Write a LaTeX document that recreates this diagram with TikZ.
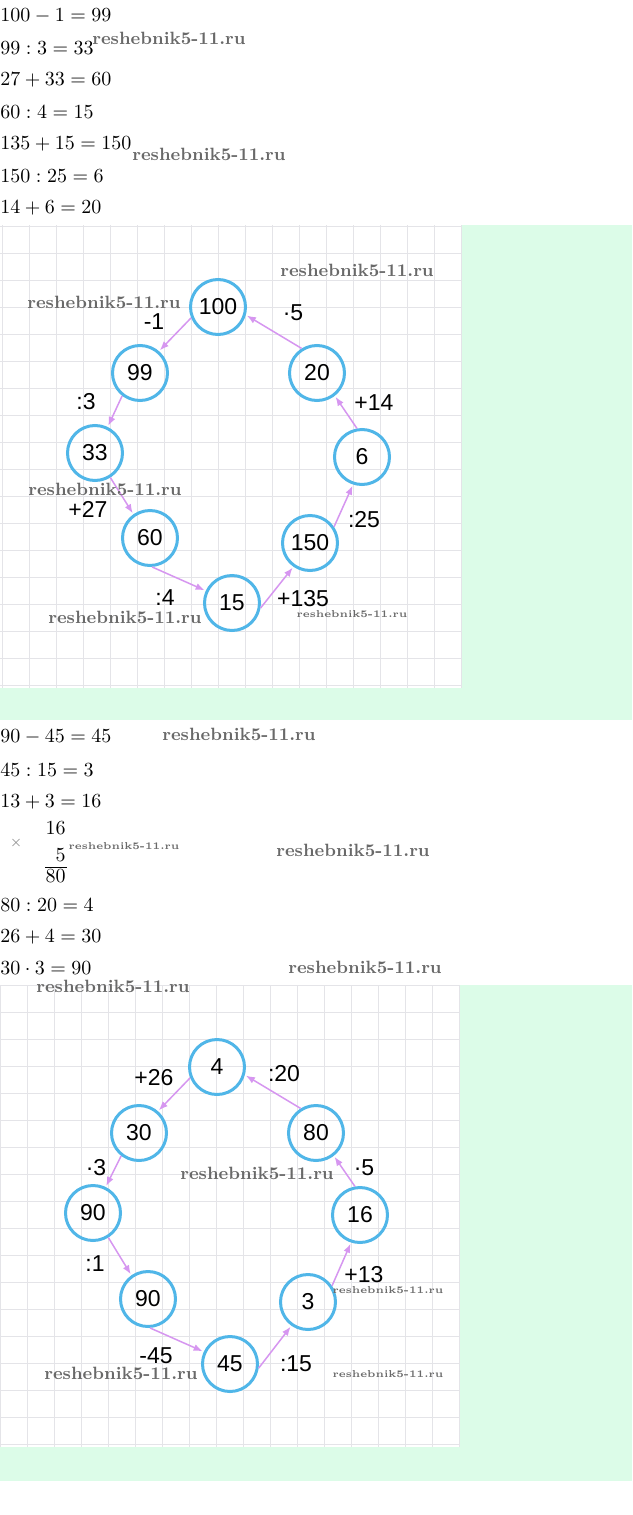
\documentclass[tikz,border=0pt]{standalone}
\usepackage{fontspec}
\usepackage{amsmath}
\usetikzlibrary{arrows.meta}
\newfontfamily\numfont{Liberation Sans}
\definecolor{mint}{RGB}{220,252,232}
\definecolor{gridgray}{RGB}{228,228,232}
\definecolor{ringblue}{RGB}{80,182,232}
\definecolor{arrowpink}{RGB}{214,150,240}
\definecolor{markgray}{RGB}{105,105,105}

\begin{document}
\begin{tikzpicture}[x=0.5pt, y=-0.5pt,
  ring/.style={circle, draw=ringblue, line width=1.5pt, minimum size=27.5pt, inner sep=0pt,
    font=\numfont\fontsize{11.5}{13}\selectfont},
  oplabel/.style={inner sep=0pt, font=\numfont\fontsize{11.5}{13}\selectfont},
  link/.style={draw=arrowpink, line width=0.75pt, -{Latex[length=4.5pt,width=3.5pt]}, shorten >=0.6pt},
  eqline/.style={anchor=west, inner sep=0pt},
  digit/.style={anchor=east, inner sep=0pt},
  site/.style={inner sep=0pt, text=markgray, font=\fontsize{8.9}{11}\selectfont\bfseries},
  smallsite/.style={site, font=\fontsize{5}{6}\selectfont\bfseries},
  gridline/.style={draw=gridgray, line width=0.5pt}]
\useasboundingbox (0,0) rectangle (632,1515);

% first chain: equations
\node[eqline] (e11) at (0,16) {$100-1=99$};
\node[eqline] (e12) at (0,48) {$99:3=33$};
\node[eqline] (e13) at (0,80) {$27+33=60$};
\node[eqline] (e14) at (0,112) {$60:4=15$};
\node[eqline] (e15) at (0,144) {$135+15=150$};
\node[eqline] (e16) at (0,176) {$150:25=6$};
\node[eqline] (e17) at (0,208) {$14+6=20$};

% first chain: sheet
\fill[mint] (0,225) rectangle (632,720);
\fill[white] (0,225) rectangle (462,688);
\foreach \k in {0,...,17} {
  \draw[gridline] ({2+27*\k},225) -- ({2+27*\k},688);
  \draw[gridline] (0,{226+27*\k}) -- (462,{226+27*\k});
}

\node[ring] (a100) at (218,307) {100};
\node[ring] (a99) at (140,373) {99};
\node[ring] (a33) at (95,453) {33};
\node[ring] (a60) at (150,538) {60};
\node[ring] (a15) at (232,603) {15};
\node[ring] (a150) at (310,543) {150};
\node[ring] (a6) at (362,457) {6};
\node[ring] (a20) at (317,373) {20};

\draw[link] (a100.202) -- (a99.49);
\draw[link] (a99.232) -- (a33.64);
\draw[link] (a33.302) -- (a60.125);
\draw[link] (a60.274) -- (a15.155);
\draw[link] (a15.350) -- (a150.235);
\draw[link] (a150.34) -- (a6.252);
\draw[link] (a6.100) -- (a20.308);
\draw[link] (a20.122) -- (a100.344);

\node[oplabel] (la1) at (154,322) {-1};
\node[oplabel] (la2) at (86,402) {:3};
\node[oplabel] (la3) at (88,509) {+27};
\node[oplabel] (la4) at (165,598) {:4};
\node[oplabel] (la5) at (303,599) {+135};
\node[oplabel] (la6) at (364,520) {:25};
\node[oplabel] (la7) at (374,403) {+14};
\node[oplabel] (la8) at (293,313) {·5};

% second chain: equations
\node[eqline] (e21) at (0,737) {$90-45=45$};
\node[eqline] (e22) at (0,770) {$45:15=3$};
\node[eqline] (e23) at (0,802) {$13+3=16$};
\node[digit] (c1) at (66,828) {$16$};
\node[inner sep=0pt, text=gray] (cx) at (16,843) {\scriptsize$\times$};
\node[digit] (c2) at (66,855) {$5$};
\draw[line width=0.4pt] (45,867) -- (67,867);
\node[digit] (c3) at (66,876) {$80$};
\node[eqline] (e24) at (0,905) {$80:20=4$};
\node[eqline] (e25) at (0,937) {$26+4=30$};
\node[eqline] (e26) at (0,968) {$30\cdot 3=90$};

% second chain: sheet
\fill[mint] (0,985) rectangle (632,1481);
\fill[white] (0,985) rectangle (459,1447);
\foreach \k in {0,...,17} {
  \draw[gridline] ({27*\k},985) -- ({27*\k},1447);
  \draw[gridline] (0,{985+27*\k}) -- (459,{985+27*\k});
}

\node[ring] (b4) at (217,1067) {4};
\node[ring] (b30) at (139,1133) {30};
\node[ring] (b90a) at (93,1213) {90};
\node[ring] (b90b) at (148,1299) {90};
\node[ring] (b45) at (230,1364) {45};
\node[ring] (b3) at (308,1302) {3};
\node[ring] (b16) at (360,1215) {16};
\node[ring] (b80) at (316,1133) {80};

\draw[link] (b4.202) -- (b30.49);
\draw[link] (b30.232) -- (b90a.64);
\draw[link] (b90a.302) -- (b90b.125);
\draw[link] (b90b.274) -- (b45.155);
\draw[link] (b45.352) -- (b3.235);
\draw[link] (b3.34) -- (b16.252);
\draw[link] (b16.100) -- (b80.308);
\draw[link] (b80.122) -- (b4.344);

\node[oplabel] (lb1) at (154,1078) {+26};
\node[oplabel] (lb2) at (96,1168) {·3};
\node[oplabel] (lb3) at (95,1264) {:1};
\node[oplabel] (lb4) at (156,1356) {-45};
\node[oplabel] (lb5) at (296,1364) {:15};
\node[oplabel] (lb6) at (364,1275) {+13};
\node[oplabel] (lb7) at (364,1168) {·5};
\node[oplabel] (lb8) at (284,1074) {:20};

% site marks
\node[site] (w1) at (169,38) {reshebnik5-11.ru};
\node[site] (w2) at (209,154) {reshebnik5-11.ru};
\node[site] (w3) at (357,270) {reshebnik5-11.ru};
\node[site] (w4) at (104,302) {reshebnik5-11.ru};
\node[site] (w5) at (105,489) {reshebnik5-11.ru};
\node[site] (w6) at (125,617) {reshebnik5-11.ru};
\node[smallsite] (w7) at (352,614) {reshebnik5-11.ru};
\node[site] (w8) at (239,734) {reshebnik5-11.ru};
\node[smallsite] (w9) at (124,846) {reshebnik5-11.ru};
\node[site] (w10) at (353,850) {reshebnik5-11.ru};
\node[site] (w11) at (365,967) {reshebnik5-11.ru};
\node[site] (w12) at (113,986) {reshebnik5-11.ru};
\node[site] (w13) at (257,1173) {reshebnik5-11.ru};
\node[smallsite] (w14) at (388,1290) {reshebnik5-11.ru};
\node[site] (w15) at (121,1373) {reshebnik5-11.ru};
\node[smallsite] (w16) at (388,1374) {reshebnik5-11.ru};
\end{tikzpicture}
\end{document}
